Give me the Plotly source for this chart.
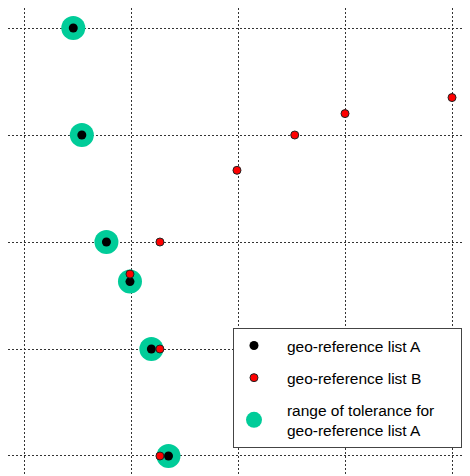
import plotly.graph_objects as go

# geo-reference list A (with tolerance circles)
xA = [0.46, 0.54, 0.77, 0.99, 1.19, 1.35]
yA = [4.0, 3.0, 2.0, 1.63, 1.0, 0.0]
# geo-reference list B
xB = [1.27, 1.27, 0.99, 1.27, 1.99, 2.53, 3.0, 4.0]
yB = [0.0, 1.0, 1.70, 2.0, 2.67, 3.0, 3.20, 3.35]

NB = "\u00a0"
labelA = NB * 3 + "geo-reference list A"
labelB = NB * 3 + "geo-reference list B"
labelTol = NB * 3 + "range of tolerance for" + NB * 5 + "<br>" + NB * 3 + "geo-reference list A"

fig = go.Figure()
fig.add_trace(go.Scatter(x=xA, y=yA, mode="markers", name=labelTol, legendrank=3,
                         legendgroup="tol",
                         marker=dict(size=24, color="#00CC99", line=dict(width=0))))
fig.add_trace(go.Scatter(x=xA, y=yA, mode="markers", name=labelA, legendrank=1,
                         legendgroup="a",
                         marker=dict(size=9, color="black", line=dict(width=0))))
fig.add_trace(go.Scatter(x=xB, y=yB, mode="markers", name=labelB, legendrank=2,
                         legendgroup="b",
                         marker=dict(size=8, color="red", line=dict(width=1, color="#222"))))

axis_common = dict(showgrid=True, gridcolor="#333", gridwidth=1, griddash="2px,2px",
                   zeroline=False, showticklabels=False, ticks="", showline=False,
                   dtick=1, tick0=0, fixedrange=True)
fig.update_xaxes(range=[-0.150, 4.168], **axis_common)
fig.update_yaxes(range=[-0.187, 4.187], **axis_common)

fig.update_layout(
    width=462, height=468,
    margin=dict(l=0, r=0, t=0, b=0),
    paper_bgcolor="white", plot_bgcolor="white",
    font=dict(family="Liberation Sans, Arial, sans-serif", size=15.5, color="black"),
    showlegend=True,
    legend=dict(x=0.487, y=0.060, xanchor="left", yanchor="bottom",
                bgcolor="white", bordercolor="#444", borderwidth=1,
                traceorder="grouped", tracegroupgap=9, itemwidth=30,
                font=dict(size=15.5)),
)
fig.write_html("out.html")
